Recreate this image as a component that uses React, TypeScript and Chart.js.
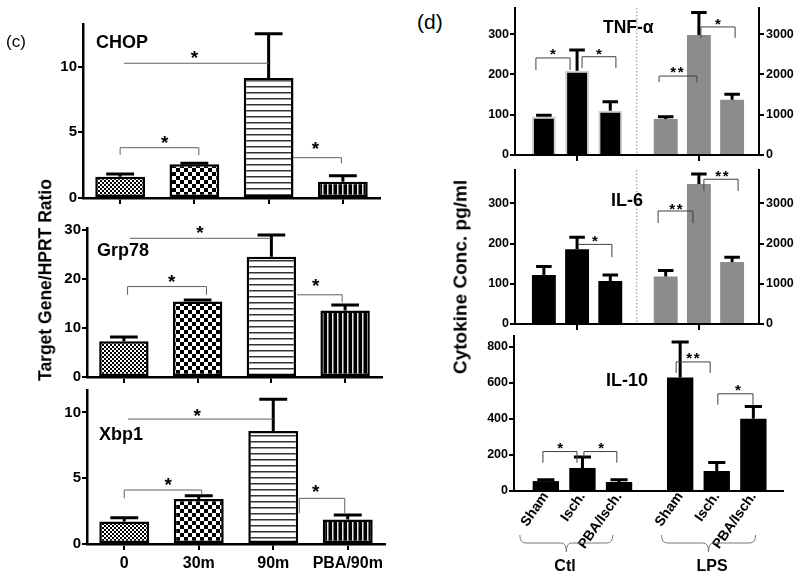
import React, { useEffect, useRef } from "react";
import { Chart, registerables } from "chart.js";

Chart.register(...registerables);

const FONT = "'Liberation Sans', Arial, Helvetica, sans-serif";
Chart.defaults.font.family = FONT;
Chart.defaults.color = "#000";

// ---------------- Panel (c) data ----------------
const geneCategories = ["0", "30m", "90m", "PBA/90m"];
const chopValues = [1.62, 2.57, 9.14, 1.24];
const chopErrTops = [1.83, 2.64, 12.5, 1.7];
const chopTicks = [0, 5, 10];
const grp78Values = [7.28, 15.4, 24.55, 13.58];
const grp78ErrTops = [8.17, 15.7, 28.96, 14.67];
const grp78Ticks = [0, 10, 20, 30];
const xbp1Values = [1.7, 3.42, 8.58, 1.87];
const xbp1ErrTops = [2.0, 3.67, 10.99, 2.2];
const xbp1Ticks = [0, 5, 10];

type Bracket = {
  x1: number; x2: number; y: number; d1: number | null; d2: number | null;
  sx: number; sy: number; label: string; axis?: string;
};

const chopBrackets: Bracket[] = [
  { x1: 0.05, x2: 2.0, y: 10.26, d1: null, d2: null, sx: 1.0, sy: 10.9, label: "*" },
  { x1: 0.0, x2: 1.06, y: 3.83, d1: 3.27, d2: 3.27, sx: 0.6, sy: 4.42, label: "*" },
  { x1: 2.33, x2: 2.98, y: 3.07, d1: null, d2: 2.64, sx: 2.63, sy: 3.96, label: "*" },
];
const grp78Brackets: Bracket[] = [
  { x1: 0.08, x2: 2.0, y: 28.3, d1: null, d2: null, sx: 1.03, sy: 30.0, label: "*" },
  { x1: 0.05, x2: 1.12, y: 18.45, d1: 16.77, d2: 16.77, sx: 0.65, sy: 20.0, label: "*" },
  { x1: 2.35, x2: 2.96, y: 16.77, d1: null, d2: 15.2, sx: 2.6, sy: 19.2, label: "*" },
];
const xbp1Brackets: Bracket[] = [
  { x1: 0.05, x2: 2.0, y: 9.49, d1: null, d2: null, sx: 0.98, sy: 10.0, label: "*" },
  { x1: 0.0, x2: 1.04, y: 4.1, d1: 3.47, d2: 3.77, sx: 0.59, sy: 4.78, label: "*" },
  { x1: 2.35, x2: 2.96, y: 3.47, d1: 2.35, d2: 2.33, sx: 2.57, sy: 4.25, label: "*" },
];

// ---------------- Panel (d) data ----------------
const cytokineGroups = ["Sham", "Isch.", "PBA/Isch."];
const tnfCtl = [95, 209, 110];
const tnfCtlErr = [99, 261, 132.5];
const tnfLps = [895, 2980, 1370];
const tnfLpsErr = [950, 3540, 1510];
const il6Ctl = [122, 186, 107];
const il6CtlErr = [143, 216, 122];
const il6Lps = [1180, 3480, 1540];
const il6LpsErr = [1330, 3730, 1660];
const il10Ctl = [55, 128, 50];
const il10CtlErr = [62, 189, 63];
const il10Lps = [631, 111, 402];
const il10LpsErr = [828, 159, 470];
const leftTicks = [0, 100, 200, 300];
const rightTicks = [0, 1000, 2000, 3000];
const il10Ticks = [0, 200, 400, 600, 800];

const tnfBrackets: Bracket[] = [
  { x1: 0.63, x2: 1.66, y: 241, d1: 211, d2: 211, sx: 1.14, sy: 256, label: "*", axis: "y" },
  { x1: 2.02, x2: 3.04, y: 244, d1: 216, d2: 216, sx: 2.53, sy: 256, label: "*", axis: "y" },
  { x1: 4.34, x2: 5.48, y: 1960, d1: 1810, d2: 1810, sx: 4.88, sy: 2110, label: "**", axis: "y1" },
  { x1: 5.6, x2: 6.63, y: 3180, d1: 2910, d2: 2910, sx: 6.11, sy: 3310, label: "*", axis: "y1" },
];
const il6Brackets: Bracket[] = [
  { x1: 1.9, x2: 2.92, y: 198, d1: null, d2: 166, sx: 2.41, sy: 211, label: "*", axis: "y" },
  { x1: 4.31, x2: 5.36, y: 2810, d1: 2510, d2: 2510, sx: 4.85, sy: 2910, label: "**", axis: "y1" },
  { x1: 5.69, x2: 6.72, y: 3600, d1: 3310, d2: 3310, sx: 6.23, sy: 3730, label: "**", axis: "y1" },
];
const il10Brackets: Bracket[] = [
  { x1: 0.79, x2: 1.72, y: 219, d1: 157, d2: 157, sx: 1.26, sy: 252, label: "*", axis: "y" },
  { x1: 1.91, x2: 2.81, y: 219, d1: 189, d2: 157, sx: 2.38, sy: 252, label: "*", axis: "y" },
  { x1: 4.43, x2: 5.36, y: 717, d1: 656, d2: 656, sx: 4.89, sy: 752, label: "**", axis: "y" },
  { x1: 5.57, x2: 6.53, y: 540, d1: 479, d2: 479, sx: 6.12, sy: 574, label: "*", axis: "y" },
];
const il10Braces = [
  { x1: 0.16, x2: 2.7 },
  { x1: 4.03, x2: 6.6 },
];

// layout constants for the cytokine x axis
const GROUP_START = [0.87, 4.54];
const X_MAX = 7.35;
const DIVIDER = 3.67;
const ctlX = cytokineGroups.map((_, i) => GROUP_START[0] + i);
const lpsX = cytokineGroups.map((_, i) => GROUP_START[1] + i);

// ---------------- helpers ----------------
type Box = { left: number; top: number; width: number; height: number };
type Area = { left: number; top: number; right: number; bottom: number };

function frame(box: Box, area: Area, rightAxis: boolean) {
  return {
    padTop: area.top - box.top,
    padRight: rightAxis ? 0 : box.left + box.width - area.right,
    yW: area.left - box.left,
    y1W: box.left + box.width - area.right,
    xH: box.top + box.height - area.bottom,
  };
}
const fitV = (w: number) => (s: any) => {
  s.width = w;
  s.paddingTop = 0;
  s.paddingBottom = 0;
};
const fitH = (h: number) => (s: any) => {
  s.height = h;
  s.paddingLeft = 0;
  s.paddingRight = 0;
};
const setTicks = (vals: number[]) => (s: any) => {
  s.ticks = vals.map((v) => ({ value: v }));
};
const plain = (v: any) => String(v);

function drawStars(ctx: CanvasRenderingContext2D, cx: number, cy: number, label: string, size: number, spacing: number) {
  ctx.font = `bold ${size}px ${FONT}`;
  ctx.textAlign = "center";
  ctx.textBaseline = "alphabetic";
  ctx.fillStyle = "#000";
  const m = ctx.measureText("*");
  const off = (m.actualBoundingBoxAscent - m.actualBoundingBoxDescent) / 2;
  const n = label.length;
  for (let k = 0; k < n; k++) {
    ctx.fillText("*", cx + (k - (n - 1) / 2) * spacing, cy + off);
  }
}

const annotPlugin = {
  id: "annot",
  beforeDatasetsDraw(chart: any, _a: any, o: any) {
    if (o.divider == null) return;
    const ctx = chart.ctx as CanvasRenderingContext2D;
    const px = chart.scales.x.getPixelForValue(o.divider);
    const area = chart.chartArea;
    ctx.save();
    ctx.strokeStyle = "#8a8a8a";
    ctx.lineWidth = 1;
    ctx.setLineDash([1.5, 2]);
    ctx.beginPath();
    ctx.moveTo(px, area.top);
    ctx.lineTo(px, area.bottom);
    ctx.stroke();
    ctx.restore();
  },
  afterDatasetsDraw(chart: any, _a: any, o: any) {
    const ctx = chart.ctx as CanvasRenderingContext2D;
    const xs = chart.scales.x;
    ctx.save();
    chart.data.datasets.forEach((_ds: any, di: number) => {
      const meta = chart.getDatasetMeta(di);
      const ys = chart.scales[meta.yAxisID];
      const tops = o.errors[di];
      meta.data.forEach((bar: any, i: number) => {
        const p = bar.getProps(["x", "y", "width"], true);
        const ey = ys.getPixelForValue(tops[i]);
        const half = (p.width * o.capRatio) / 2;
        ctx.strokeStyle = "#000";
        ctx.lineWidth = o.errWidth;
        ctx.beginPath();
        ctx.moveTo(p.x, p.y);
        ctx.lineTo(p.x, ey);
        ctx.moveTo(p.x - half, ey);
        ctx.lineTo(p.x + half, ey);
        ctx.stroke();
      });
    });
    (o.brackets || []).forEach((b: Bracket) => {
      const ys = chart.scales[b.axis || "y"];
      const x1 = xs.getPixelForValue(b.x1);
      const x2 = xs.getPixelForValue(b.x2);
      const y = ys.getPixelForValue(b.y);
      ctx.strokeStyle = o.lineColor;
      ctx.lineWidth = o.lineWidth;
      ctx.beginPath();
      if (b.d1 != null) {
        ctx.moveTo(x1, ys.getPixelForValue(b.d1));
        ctx.lineTo(x1, y);
      } else {
        ctx.moveTo(x1, y);
      }
      ctx.lineTo(x2, y);
      if (b.d2 != null) ctx.lineTo(x2, ys.getPixelForValue(b.d2));
      ctx.stroke();
      drawStars(ctx, xs.getPixelForValue(b.sx), ys.getPixelForValue(b.sy), b.label, o.starSize, o.starSpacing);
    });
    ctx.restore();
  },
  afterDraw(chart: any, _a: any, o: any) {
    if (!o.braces) return;
    const ctx = chart.ctx as CanvasRenderingContext2D;
    const xs = chart.scales.x;
    const b = chart.chartArea.bottom;
    ctx.save();
    ctx.strokeStyle = "#777";
    ctx.lineWidth = 1;
    o.braces.forEach((br: any) => {
      const x1 = xs.getPixelForValue(br.x1);
      const x2 = xs.getPixelForValue(br.x2);
      const cx = (x1 + x2) / 2;
      const top = b + 44, mid = b + 52, tip = b + 61;
      ctx.beginPath();
      ctx.moveTo(x1, top);
      ctx.quadraticCurveTo(x1, mid, x1 + 6, mid);
      ctx.lineTo(cx - 5, mid);
      ctx.quadraticCurveTo(cx, mid, cx, tip);
      ctx.moveTo(cx, tip);
      ctx.quadraticCurveTo(cx, mid, cx + 5, mid);
      ctx.lineTo(x2 - 6, mid);
      ctx.quadraticCurveTo(x2, mid, x2, top);
      ctx.stroke();
    });
    ctx.restore();
  },
};

function makePatterns(ctx: CanvasRenderingContext2D) {
  const tile = (w: number, h: number, draw: (g: CanvasRenderingContext2D) => void) => {
    const c = document.createElement("canvas");
    c.width = w;
    c.height = h;
    const g = c.getContext("2d")!;
    draw(g);
    return ctx.createPattern(c, "repeat")!;
  };
  const fine = tile(4, 4, (g) => {
    g.fillStyle = "#fff"; g.fillRect(0, 0, 4, 4);
    g.fillStyle = "#000"; g.fillRect(0, 0, 2, 2); g.fillRect(2, 2, 2, 2);
  });
  const checker = tile(8, 8, (g) => {
    g.fillStyle = "#fff"; g.fillRect(0, 0, 8, 8);
    g.fillStyle = "#000"; g.fillRect(0, 0, 4, 4); g.fillRect(4, 4, 4, 4);
  });
  const hlines = tile(6, 6, (g) => {
    g.fillStyle = "#fff"; g.fillRect(0, 0, 6, 6);
    g.fillStyle = "#333"; g.fillRect(0, 2, 6, 1.5);
  });
  const vlines = tile(5, 5, (g) => {
    g.fillStyle = "#000"; g.fillRect(0, 0, 5, 5);
    g.fillStyle = "#e6e6e6"; g.fillRect(2, 0, 1.5, 5);
  });
  return [fine, checker, hlines, vlines];
}

type GeneParams = {
  values: number[]; errTops: number[]; ticks: number[]; max: number;
  brackets: Bracket[]; showLabels: boolean; box: Box; area: Area;
};

function geneConfig(ctx: CanvasRenderingContext2D, p: GeneParams): any {
  const f = frame(p.box, p.area, false);
  return {
    type: "bar",
    data: {
      labels: geneCategories,
      datasets: [{
        data: p.values,
        backgroundColor: makePatterns(ctx),
        borderColor: "#000",
        borderWidth: 2.5,
        borderSkipped: false,
        barPercentage: 0.67,
        categoryPercentage: 1,
      }],
    },
    options: {
      responsive: false, animation: false, devicePixelRatio: 1, events: [],
      layout: { padding: { top: f.padTop, right: f.padRight, left: 0, bottom: 0 } },
      plugins: {
        legend: { display: false }, tooltip: { enabled: false },
        annot: { errors: [p.errTops], capRatio: 0.56, errWidth: 3, brackets: p.brackets, starSize: 19, starSpacing: 10, lineColor: "#606060", lineWidth: 1 },
      },
      scales: {
        x: {
          type: "category", offset: true,
          grid: { display: true, drawOnChartArea: false, offset: false, tickLength: 6, color: "#000", lineWidth: 2 },
          border: { display: true, color: "#000", width: 2.5, z: 1 },
          ticks: { display: p.showLabels, color: "#000", font: { size: 16, weight: "bold" }, padding: 4, maxRotation: 0, autoSkip: false },
          afterFit: fitH(f.xH),
        },
        y: {
          type: "linear", min: 0, max: p.max,
          afterBuildTicks: setTicks(p.ticks),
          grid: { display: true, drawOnChartArea: false, tickLength: 5, color: "#000", lineWidth: 2 },
          border: { display: true, color: "#000", width: 2.5 },
          ticks: { color: "#000", font: { size: 15, weight: "bold" }, padding: 1, callback: plain },
          afterFit: fitV(f.yW),
        },
      },
    },
    plugins: [annotPlugin],
  };
}

type CytoParams = {
  ctl: number[]; ctlErr: number[]; lps: number[]; lpsErr: number[];
  lpsColor: string; ctlBorder: string | null; yMax: number; yTicks: number[];
  y1Max: number | null; y1Ticks: number[]; brackets: Bracket[];
  divider: number | null; braces: any; labels: boolean; box: Box; area: Area;
};

function cytoConfig(_ctx: CanvasRenderingContext2D, p: CytoParams): any {
  const hasRight = p.y1Max != null;
  const f = frame(p.box, p.area, hasRight);
  const xTickVals = p.labels ? [...ctlX, ...lpsX] : [ctlX[1], lpsX[1]];
  const xLabels = [...cytokineGroups, ...cytokineGroups];
  const axisY = {
    grid: { display: true, drawOnChartArea: false, tickLength: 5, color: "#000", lineWidth: 2 },
    border: { display: true, color: "#000", width: 2 },
  };
  const scales: any = {
    x: {
      type: "linear", min: 0, max: X_MAX, offset: false,
      afterBuildTicks: setTicks(xTickVals),
      grid: p.labels
        ? { display: false, drawTicks: false }
        : { display: true, drawOnChartArea: false, offset: false, tickLength: 6, color: "#000", lineWidth: 2 },
      border: { display: true, color: "#000", width: 2, z: 1 },
      ticks: {
        display: p.labels, autoSkip: false, minRotation: 55, maxRotation: 55, padding: -2,
        color: "#000", font: { size: 14, weight: "bold" },
        callback: (_v: any, i: number) => xLabels[i],
      },
      afterFit: fitH(f.xH),
    },
    y: {
      position: "left", min: 0, max: p.yMax, afterBuildTicks: setTicks(p.yTicks),
      ...axisY,
      ticks: { color: "#000", font: { size: 12.5, weight: "bold" }, padding: 1, callback: plain },
      afterFit: fitV(f.yW),
    },
  };
  if (hasRight) {
    scales.y1 = {
      position: "right", min: 0, max: p.y1Max, afterBuildTicks: setTicks(p.y1Ticks),
      ...axisY,
      ticks: { color: "#000", font: { size: 12.5, weight: "bold" }, padding: 2, callback: plain },
      afterFit: fitV(f.y1W),
    };
  }
  return {
    type: "bar",
    data: {
      datasets: [
        {
          data: ctlX.map((x, i) => ({ x, y: p.ctl[i] })),
          backgroundColor: "#000",
          borderColor: p.ctlBorder || "#000",
          borderWidth: p.ctlBorder ? 2 : 0,
          grouped: false, barPercentage: 0.72, categoryPercentage: 1, yAxisID: "y",
        },
        {
          data: lpsX.map((x, i) => ({ x, y: p.lps[i] })),
          backgroundColor: p.lpsColor,
          borderWidth: 0,
          grouped: false, barPercentage: 0.72, categoryPercentage: 1,
          yAxisID: hasRight ? "y1" : "y",
        },
      ],
    },
    options: {
      responsive: false, animation: false, devicePixelRatio: 1, events: [],
      layout: { padding: { top: f.padTop, right: f.padRight, left: 0, bottom: 0 } },
      plugins: {
        legend: { display: false }, tooltip: { enabled: false },
        annot: {
          errors: [p.ctlErr, p.lpsErr], capRatio: 0.65, errWidth: 3,
          brackets: p.brackets, starSize: 15, starSpacing: 7.5,
          lineColor: "#404040", lineWidth: 1, divider: p.divider, braces: p.braces,
        },
      },
      scales,
    },
    plugins: [annotPlugin],
  };
}

function ChartCanvas({ box, build }: { box: Box; build: (ctx: CanvasRenderingContext2D) => any }) {
  const ref = useRef<HTMLCanvasElement>(null);
  useEffect(() => {
    const canvas = ref.current!;
    const chart = new Chart(canvas, build(canvas.getContext("2d")!));
    return () => chart.destroy();
  }, []);
  return (
    <canvas
      ref={ref}
      width={box.width}
      height={box.height}
      style={{ position: "absolute", left: box.left, top: box.top, width: box.width, height: box.height }}
    />
  );
}

function Txt({ text, left, top, size, bold = true, center = false }: any) {
  return (
    <div
      style={{
        position: "absolute", left, top, fontFamily: FONT, fontSize: size,
        fontWeight: bold ? 700 : 400, lineHeight: 1, whiteSpace: "nowrap", color: "#000",
        transform: center ? "translateX(-50%)" : undefined,
      }}
    >
      {text}
    </div>
  );
}

function VTxt({ text, cx, cy, size }: any) {
  return (
    <div
      style={{
        position: "absolute", left: cx, top: cy, fontFamily: FONT, fontSize: size,
        fontWeight: 700, lineHeight: 1, whiteSpace: "nowrap", color: "#000",
        transform: "translate(-50%, -50%) rotate(-90deg)",
      }}
    >
      {text}
    </div>
  );
}

const chopBox: Box = { left: 0, top: 0, width: 390, height: 210 };
const chopArea: Area = { left: 83, top: 24, right: 380, bottom: 198 };
const grpBox: Box = { left: 0, top: 210, width: 390, height: 175 };
const grpArea: Area = { left: 87, top: 228, right: 382, bottom: 377 };
const xbpBox: Box = { left: 0, top: 385, width: 392, height: 194 };
const xbpArea: Area = { left: 87, top: 390, right: 385, bottom: 544 };
const tnfBox: Box = { left: 465, top: 0, width: 335, height: 163 };
const tnfArea: Area = { left: 515, top: 8, right: 759, bottom: 155 };
const il6Box: Box = { left: 465, top: 163, width: 335, height: 170 };
const il6Area: Area = { left: 515, top: 170, right: 759, bottom: 324 };
const il10Box: Box = { left: 465, top: 333, width: 335, height: 246 };
const il10Area: Area = { left: 514, top: 336, right: 783, bottom: 491 };

export default function App() {
  return (
    <div style={{ position: "absolute", left: 0, top: 0, width: 800, height: 579, background: "#fff", overflow: "hidden" }}>
      <ChartCanvas box={chopBox} build={(ctx) => geneConfig(ctx, { values: chopValues, errTops: chopErrTops, ticks: chopTicks, max: 13.25, brackets: chopBrackets, showLabels: false, box: chopBox, area: chopArea })} />
      <ChartCanvas box={grpBox} build={(ctx) => geneConfig(ctx, { values: grp78Values, errTops: grp78ErrTops, ticks: grp78Ticks, max: 30.4, brackets: grp78Brackets, showLabels: false, box: grpBox, area: grpArea })} />
      <ChartCanvas box={xbpBox} build={(ctx) => geneConfig(ctx, { values: xbp1Values, errTops: xbp1ErrTops, ticks: xbp1Ticks, max: 11.7, brackets: xbp1Brackets, showLabels: true, box: xbpBox, area: xbpArea })} />

      <ChartCanvas box={tnfBox} build={(ctx) => cytoConfig(ctx, { ctl: tnfCtl, ctlErr: tnfCtlErr, lps: tnfLps, lpsErr: tnfLpsErr, lpsColor: "#8c8c8c", ctlBorder: "#d0d0d0", yMax: 365, yTicks: leftTicks, y1Max: 3650, y1Ticks: rightTicks, brackets: tnfBrackets, divider: DIVIDER, braces: null, labels: false, box: tnfBox, area: tnfArea })} />
      <ChartCanvas box={il6Box} build={(ctx) => cytoConfig(ctx, { ctl: il6Ctl, ctlErr: il6CtlErr, lps: il6Lps, lpsErr: il6LpsErr, lpsColor: "#8c8c8c", ctlBorder: null, yMax: 383, yTicks: leftTicks, y1Max: 3830, y1Ticks: rightTicks, brackets: il6Brackets, divider: DIVIDER, braces: null, labels: false, box: il6Box, area: il6Area })} />
      <ChartCanvas box={il10Box} build={(ctx) => cytoConfig(ctx, { ctl: il10Ctl, ctlErr: il10CtlErr, lps: il10Lps, lpsErr: il10LpsErr, lpsColor: "#000", ctlBorder: null, yMax: 861, yTicks: il10Ticks, y1Max: null, y1Ticks: [], brackets: il10Brackets, divider: null, braces: il10Braces, labels: true, box: il10Box, area: il10Area })} />

      <Txt text="(c)" left={6} top={32.6} size={17} bold={false} />
      <Txt text="(d)" left={417} top={11} size={21} bold={false} />
      <Txt text="CHOP" left={96} top={32.7} size={18} />
      <Txt text="Grp78" left={97} top={240.7} size={18} />
      <Txt text="Xbp1" left={99} top={424.7} size={18} />
      <Txt text="TNF-α" left={603} top={18.7} size={17.5} />
      <Txt text="IL-6" left={611} top={191} size={18} />
      <Txt text="IL-10" left={606} top={371} size={18} />
      <Txt text="Ctl" left={565} top={558} size={16} center />
      <Txt text="LPS" left={712} top={558} size={16} center />
      <VTxt text="Target Gene/HPRT Ratio" cx={46} cy={280} size={17.5} />
      <VTxt text="Cytokine Conc. pg/ml" cx={459.5} cy={277} size={19} />
    </div>
  );
}
